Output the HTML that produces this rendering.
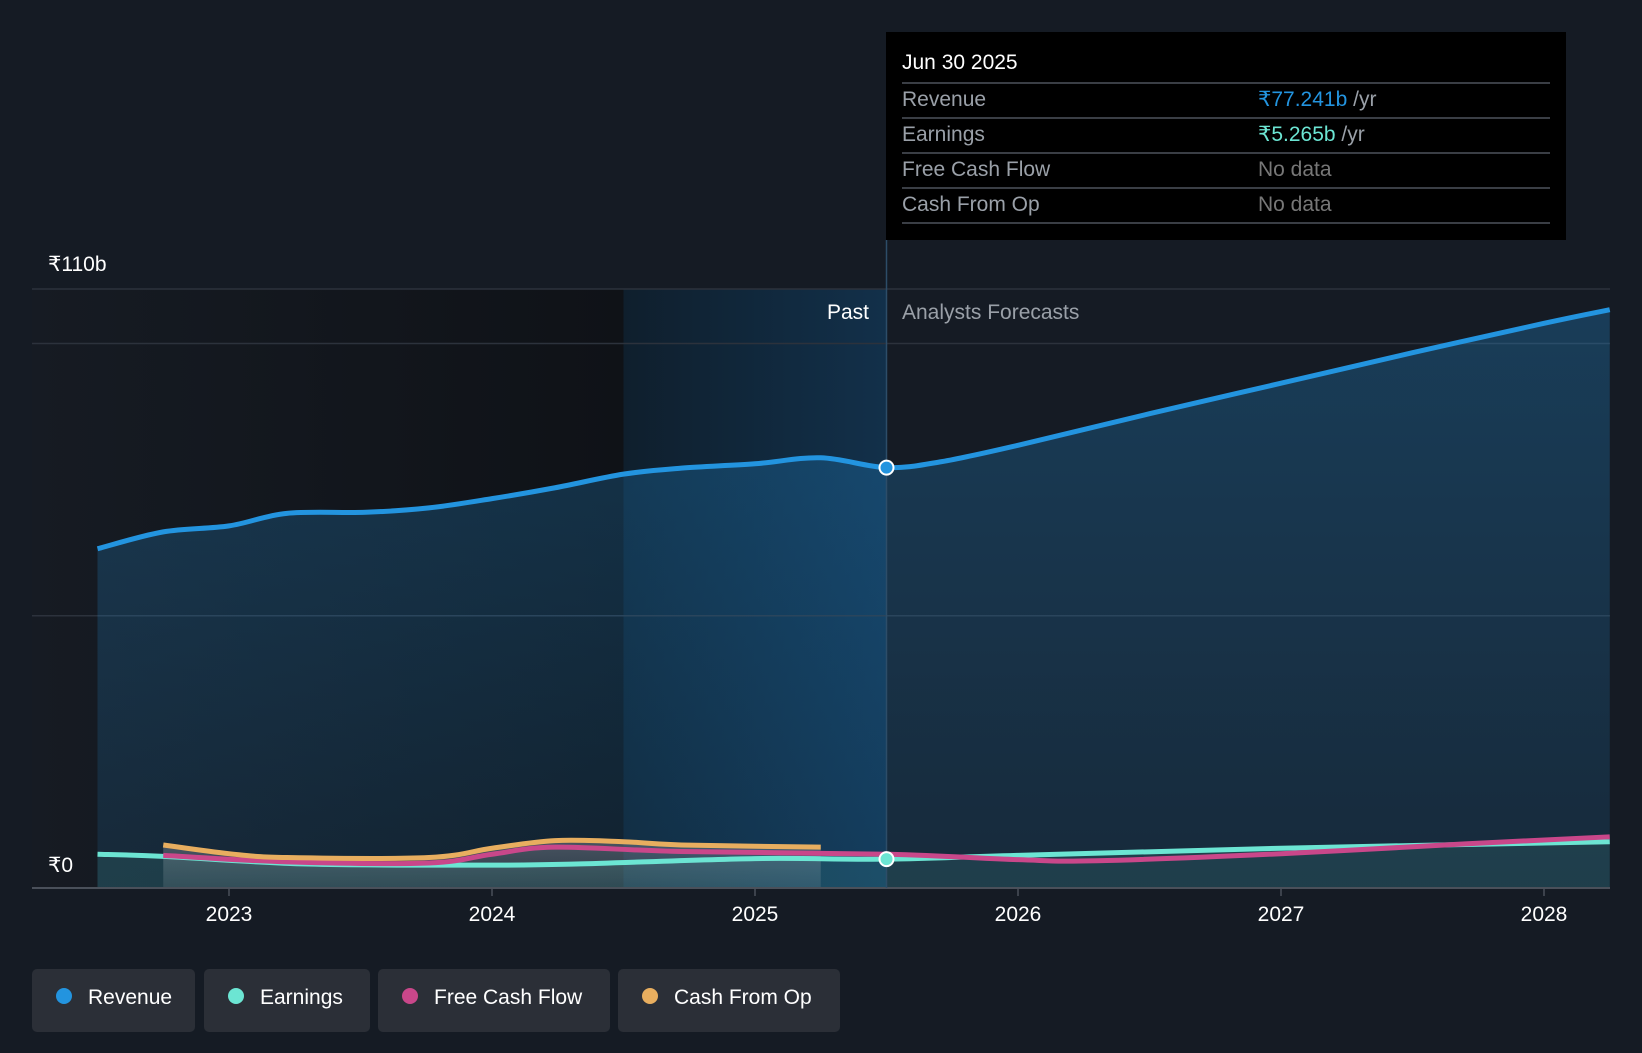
<!DOCTYPE html>
<html><head><meta charset="utf-8"><style>
html,body{margin:0;padding:0;background:#151b24;}
body{width:1642px;height:1048px;overflow:hidden;font-family:"Liberation Sans",sans-serif;}
svg text{font-family:"Liberation Sans",sans-serif;}
</style></head><body>
<svg id="chart" width="1642" height="1048" xmlns="http://www.w3.org/2000/svg">
<defs>
<linearGradient id="pastBg" x1="0" x2="1" y1="0" y2="0"><stop offset="0" stop-color="#161b23"/><stop offset="1" stop-color="#0f1217"/></linearGradient>
<linearGradient id="hiBg" x1="0" x2="1" y1="0" y2="0"><stop offset="0" stop-color="#0f1f2d"/><stop offset="1" stop-color="#12304a"/></linearGradient>
<linearGradient id="revFill" x1="0" x2="0" y1="0" y2="1"><stop offset="0" stop-color="#2394df" stop-opacity="0.28"/><stop offset="1" stop-color="#2394df" stop-opacity="0.12"/></linearGradient>
<linearGradient id="lowFill" x1="0" x2="0" y1="0" y2="1"><stop offset="0" stop-color="#8a8f99" stop-opacity="0.45"/><stop offset="1" stop-color="#8a8f99" stop-opacity="0.2"/></linearGradient>
</defs>
<g id="bg"></g>
<g id="marks"></g>
<g id="overlay"></g>
</svg>
<script>
const revYears=[2022.5,2022.75,2023.0,2023.22,2023.52,2023.76,2024.0,2024.24,2024.5,2024.72,2025.0,2025.25,2025.5,2025.71,2026.0,2026.5,2027.0,2027.5,2028.0,2028.25];
const revVals=[62.3,65.4,66.5,68.8,69.0,69.8,71.5,73.5,76.0,77.1,77.9,79.0,77.2,78.3,81.3,87.1,92.7,98.3,103.7,106.2];
const earnYears=[2022.5,2022.75,2023.3,2024.0,2024.32,2025.0,2025.5,2026.0,2027.0,2028.25];
const earnVals=[6.2,5.8,4.4,4.2,4.4,5.4,5.3,6.0,7.3,8.5];
const fcfYears=[2022.75,2023.22,2023.76,2024.0,2024.24,2024.72,2025.5,2026.0,2026.3,2027.0,2027.7,2028.25];
const fcfVals=[6.0,4.8,4.6,6.2,7.5,6.7,6.2,5.2,5.0,6.3,8.1,9.4];
const cfoYears=[2022.75,2023.0,2023.22,2023.76,2024.0,2024.24,2024.5,2024.72,2025.25];
const cfoVals=[7.9,6.3,5.6,5.6,7.3,8.7,8.5,7.9,7.5];
const yTicks=[0,110];
const yTickLabels=["₹0","₹110b"];
const yGrid=[50,100,110];
const xTicks=[2023,2024,2025,2026,2027,2028];

const NS="http://www.w3.org/2000/svg";
const X0=32,X1=1610,Y0=888;
const xs=y=>229+(y-2023)*263;
const ys=v=>Y0-v*(Y0-289)/110;
function el(tag,attrs,parent,txt){const e=document.createElementNS(NS,tag);for(const k in attrs)e.setAttribute(k,attrs[k]);if(txt!==undefined)e.textContent=txt;parent.appendChild(e);return e;}
function pathD(xsA,vs){const p=xsA.map((y,i)=>[xs(y),ys(vs[i])]);let d="M"+p[0][0]+","+p[0][1];
for(let i=0;i<p.length-1;i++){const p0=p[Math.max(0,i-1)],p1=p[i],p2=p[i+1],p3=p[Math.min(p.length-1,i+2)];
const c1=[p1[0]+(p2[0]-p0[0])/6,p1[1]+(p2[1]-p0[1])/6],c2=[p2[0]-(p3[0]-p1[0])/6,p2[1]-(p3[1]-p1[1])/6];
d+=" C"+c1[0]+","+c1[1]+" "+c2[0]+","+c2[1]+" "+p2[0]+","+p2[1];}return d;}
const bg=document.getElementById('bg'),marks=document.getElementById('marks'),ov=document.getElementById('overlay');
const xPast=xs(2025.5),xHi=xs(2024.5);
let r=el('rect',{x:X0,y:289,width:xHi-X0,height:Y0-289,fill:'url(#pastBg)'},bg);

r=el('rect',{x:xHi,y:289,width:xPast-xHi,height:Y0-289,fill:'url(#hiBg)'},bg);

yGrid.forEach(v=>{const g=el('line',{x1:X0,x2:X1,y1:ys(v),y2:ys(v),stroke:'#2c323c','stroke-width':1.5},bg);});
const rd=pathD(revYears,revVals);
let a=el('path',{d:rd+" L"+xs(revYears[revYears.length-1])+","+Y0+" L"+xs(revYears[0])+","+Y0+" Z",fill:'url(#revFill)'},marks);

const cd=pathD(cfoYears,cfoVals);
a=el('path',{d:cd+" L"+xs(cfoYears[cfoYears.length-1])+","+Y0+" L"+xs(cfoYears[0])+","+Y0+" Z",fill:'url(#lowFill)'},marks);

const ed=pathD(earnYears,earnVals);
a=el('path',{d:ed+" L"+xs(earnYears[earnYears.length-1])+","+Y0+" L"+xs(earnYears[0])+","+Y0+" Z",fill:'#5ad8c6','fill-opacity':0.12},marks);

let l=el('path',{d:ed,fill:'none',stroke:'#6ce5d3','stroke-width':5},marks);

l=el('path',{d:pathD(fcfYears,fcfVals),fill:'none',stroke:'#c9478a','stroke-width':5},marks);

l=el('path',{d:cd,fill:'none',stroke:'#e8ae5f','stroke-width':5},marks);

l=el('path',{d:rd,fill:'none',stroke:'#2394df','stroke-width':5},marks);

let t=el('line',{x1:X0,x2:X1,y1:Y0,y2:Y0,stroke:'#4a505a','stroke-width':2},ov);

t=el('line',{x1:xPast,x2:xPast,y1:240,y2:Y0,stroke:'#2d4d68','stroke-width':1.5},ov);

xTicks.forEach(y=>{const x=xs(y);let tk=el('line',{x1:x,x2:x,y1:Y0,y2:Y0+8,stroke:'#4a505a','stroke-width':1.5},ov);
let lb=el('text',{x:x,y:921,fill:'#fff','font-size':21,'text-anchor':'middle'},ov,String(y));});
yTicks.forEach((v,i)=>{let lb=el('text',{x:48,y:v===0?872:ys(v)-18,fill:'#fff','font-size':21},ov,yTickLabels[i]);});
t=el('text',{x:869,y:319,fill:'#fff','font-size':21,'text-anchor':'end'},ov,'Past');
t=el('text',{x:902,y:319,fill:'#9aa0a8','font-size':21},ov,'Analysts Forecasts');
let d=el('circle',{cx:xPast,cy:ys(revVals[12]),r:7,fill:'#2394df',stroke:'#fff','stroke-width':2},ov);
d=el('circle',{cx:xPast,cy:ys(earnVals[6]),r:7,fill:'#6ce5d3',stroke:'#fff','stroke-width':2},ov);
const tg=el('g',{},ov);
el('rect',{x:886,y:32,width:680,height:208,fill:'#000'},tg);
el('text',{x:902,y:69,fill:'#fff','font-size':21},tg,'Jun 30 2025');
const rows=[["Revenue","₹77.241b","#2394df"],["Earnings","₹5.265b","#6ce5d3"],["Free Cash Flow","No data","#777"],["Cash From Op","No data","#777"]];
const lineY=[83,118,153,188,223];
lineY.forEach(y=>el('line',{x1:902,x2:1550,y1:y,y2:y,stroke:'#3a3e45','stroke-width':2},tg));
rows.forEach((rw,i)=>{const y=lineY[i]+23;el('text',{x:902,y:y,fill:'#9aa0a8','font-size':21},tg,rw[0]);
const tx=el('text',{x:1258,y:y,fill:rw[2],'font-size':21},tg,rw[1]);
if(i<2){el('tspan',{fill:'#9aa0a8'},tx,' /yr');}});
const leg=[["Revenue","#2394df",32,163],["Earnings","#6ce5d3",204,166],["Free Cash Flow","#c9478a",378,232],["Cash From Op","#e8ae5f",618,222]];
leg.forEach(lg=>{const g=el('g',{},ov);
el('rect',{x:lg[2],y:969,width:lg[3],height:63,rx:5,fill:'#2b2f37'},g);
el('circle',{cx:lg[2]+32,cy:996,r:8,fill:lg[1]},g);
el('text',{x:lg[2]+56,y:1004,fill:'#fff','font-size':21},g,lg[0]);});
</script>
</body></html>
